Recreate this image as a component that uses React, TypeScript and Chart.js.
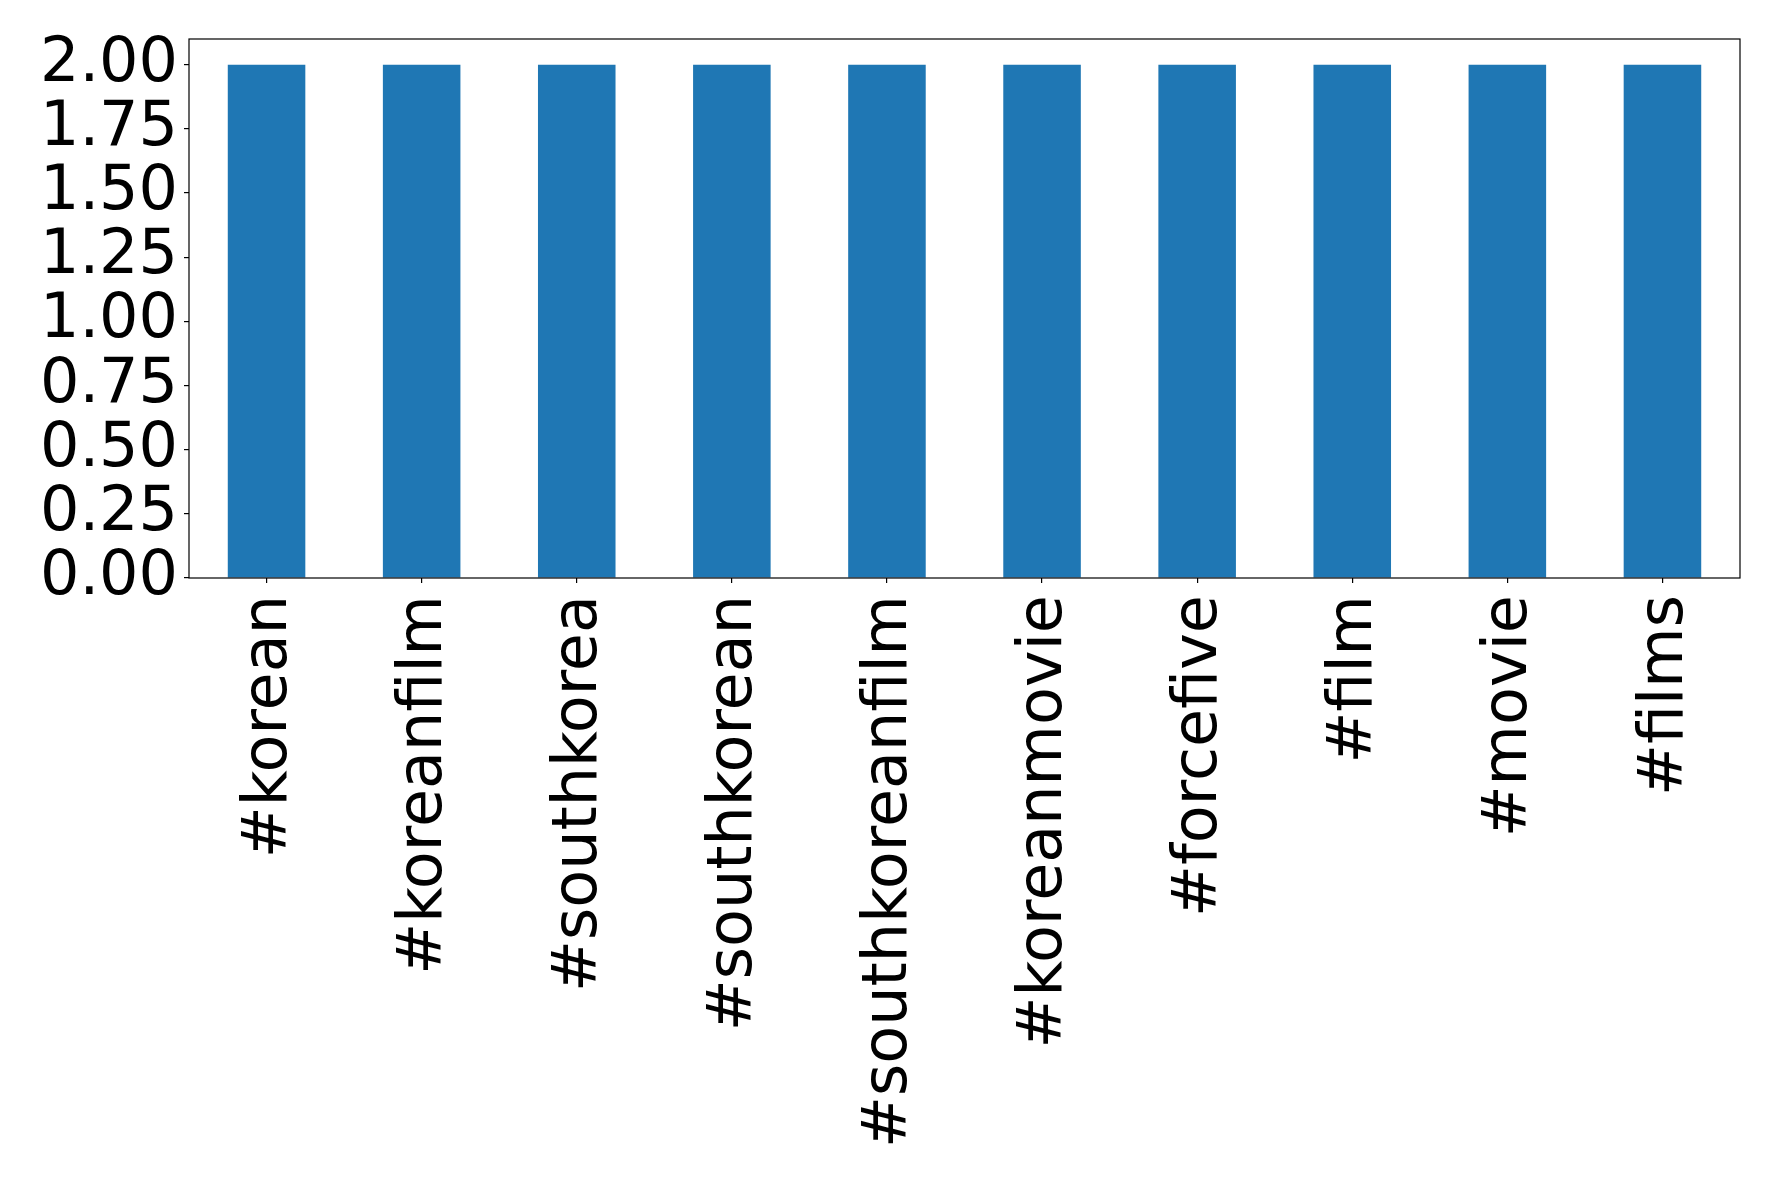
import React, { useEffect, useRef } from "react";
import { Chart, registerables } from "chart.js";

Chart.register(...registerables);

const categories = [
  "#korean",
  "#koreanfilm",
  "#southkorea",
  "#southkorean",
  "#southkoreanfilm",
  "#koreanmovie",
  "#forcefive",
  "#film",
  "#movie",
  "#films",
];
const counts = [2, 2, 2, 2, 2, 2, 2, 2, 2, 2];
const yMax = 2.1;
const yTickValues = [0, 0.25, 0.5, 0.75, 1.0, 1.25, 1.5, 1.75, 2.0];

const W = 1778;
const H = 1185;
const LEFT = 189;
const BOTTOM = 578;
const TOP = 39;
const RIGHT_PAD = 38;

const frame = {
  id: "frame",
  afterDraw(chart: any) {
    const { ctx, chartArea } = chart;
    ctx.save();
    ctx.strokeStyle = "#000";
    ctx.lineWidth = 1.2;
    ctx.strokeRect(chartArea.left, chartArea.top, chartArea.right - chartArea.left, chartArea.bottom - chartArea.top);
    ctx.restore();
  },
};

export default function App() {
  const ref = useRef<HTMLCanvasElement | null>(null);
  useEffect(() => {
    document.body.style.margin = "0";
    const font = { family: "'DejaVu Sans'", size: 62 };
    const chart = new Chart(ref.current as HTMLCanvasElement, {
      type: "bar",
      data: {
        labels: categories,
        datasets: [
          {
            data: counts,
            backgroundColor: "#1f77b4",
            barPercentage: 0.5,
            categoryPercentage: 1.0,
          },
        ],
      },
      plugins: [frame],
      options: {
        animation: false,
        responsive: false,
        devicePixelRatio: 1,
        layout: { padding: { top: TOP, right: RIGHT_PAD, left: 0, bottom: 0 } },
        plugins: { legend: { display: false }, tooltip: { enabled: false } },
        scales: {
          x: {
            offset: true,
            border: { display: false },
            grid: { display: true, drawOnChartArea: false, drawTicks: true, tickLength: 5, color: "#000", lineWidth: 1.2, offset: false },
            ticks: { autoSkip: false, maxRotation: 90, minRotation: 90, color: "#000", font, padding: 12, labelOffset: 3 },
            afterFit(scale: any) {
              scale.height = H - BOTTOM;
              scale.paddingLeft = 0;
              scale.paddingRight = 0;
            },
          },
          y: {
            min: 0,
            max: yMax,
            border: { display: false },
            grid: { display: true, drawOnChartArea: false, drawTicks: true, tickLength: 5, color: "#000", lineWidth: 1.2 },
            ticks: {
              autoSkip: false,
              color: "#000",
              font,
              padding: 6,
              callback: (v: any) => Number(v).toFixed(2),
            },
            afterBuildTicks(scale: any) {
              scale.ticks = yTickValues.map((v) => ({ value: v }));
            },
            afterFit(scale: any) {
              scale.width = LEFT;
              scale.paddingTop = 0;
              scale.paddingBottom = 0;
            },
          },
        },
      },
    });
    return () => chart.destroy();
  }, []);
  return (
    <div style={{ width: W, height: H, background: "#fff" }}>
      <canvas ref={ref} width={W} height={H} style={{ display: "block" }} />
    </div>
  );
}
